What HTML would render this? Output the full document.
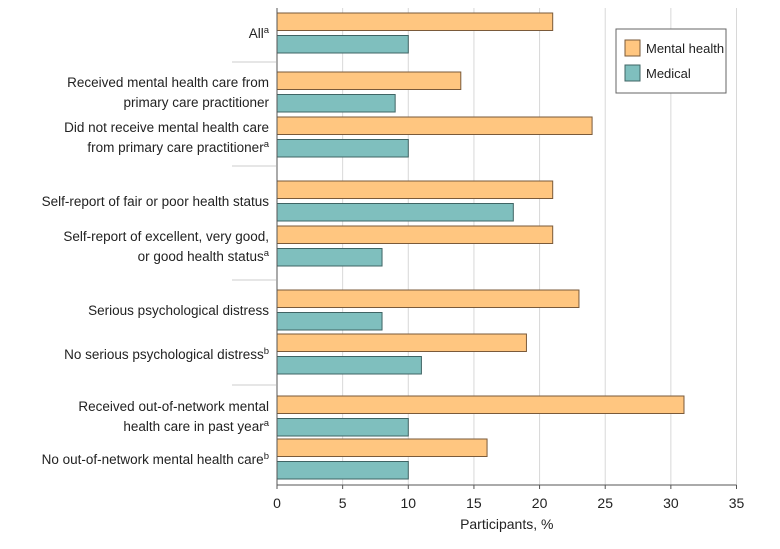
<!DOCTYPE html>
<html><head><meta charset="utf-8"><style>
body{margin:0;background:#fff;}
svg text{font-family:"Liberation Sans",sans-serif;fill:#222;}
</style></head><body>
<svg id="chart" width="780" height="544" viewBox="0 0 780 544" xmlns="http://www.w3.org/2000/svg"></svg>
<script>
const categories=[["All","a"],["Received mental health care from","primary care practitioner",""],["Did not receive mental health care","from primary care practitioner","a"],["Self-report of fair or poor health status",""],["Self-report of excellent, very good,","or good health status","a"],["Serious psychological distress",""],["No serious psychological distress","b"],["Received out-of-network mental","health care in past year","a"],["No out-of-network mental health care","b"]];
const mentalHealth=[21,14,24,21,21,23,19,31,16];
const medical=[10,9,10,18,8,8,11,10,10];
const ticks=[0,5,10,15,20,25,30,35];
const rowTops=[13,72,117,181,226,290,334,396,439];
const svg=document.getElementById('chart');
const NS='http://www.w3.org/2000/svg';
const x0=277,x1=736.5,axisY=485;
function xs(v){return x0+(x1-x0)*v/35;}
function mk(t,a,parent){const e=document.createElementNS(NS,t);for(const k in a)e.setAttribute(k,a[k]);(parent||svg).appendChild(e);return e;}
ticks.forEach(t=>{if(t>0){const g=mk('line',{x1:xs(t),x2:xs(t),y1:8,y2:axisY,stroke:'#d8d8d8','stroke-width':1});

}
const tl=mk('text',{x:xs(t),y:axisY+23,'text-anchor':'middle','font-size':14});tl.textContent=t;


mk('line',{x1:xs(t),x2:xs(t),y1:axisY,y2:axisY+4,stroke:'#555'});});
[62,166,280,385].forEach(y=>{const s=mk('line',{x1:232,x2:276,y1:y,y2:y,stroke:'#ddd','stroke-width':1.5});

});
const bh=17.5;
categories.forEach((c,i)=>{
 const top=rowTops[i];
 const b1=mk('rect',{x:x0,y:top,width:xs(mentalHealth[i])-x0,height:bh,fill:'#FFC680',stroke:'#7a5a3a','stroke-width':1});
 
 
 const b2=mk('rect',{x:x0,y:top+bh+5,width:xs(medical[i])-x0,height:bh,fill:'#7FBFBE',stroke:'#3f6464','stroke-width':1});
 
 
 const lines=c.slice(0,-1), sup=c[c.length-1];
 const cy=top+bh+2.5;
 const start=cy-(lines.length-1)*10+5;
 lines.forEach((ln,j)=>{
  const t=mk('text',{x:269,y:start+j*20,'text-anchor':'end','font-size':13.5});
  
  
  const m=mk('tspan',{},t);m.textContent=ln;
  if(j===lines.length-1&&sup){const s=mk('tspan',{dy:-5,'font-size':9.5},t);s.textContent=sup;}
 });
});
mk('line',{x1:x0,x2:x0,y1:8,y2:axisY,stroke:'#555'});
mk('line',{x1:x0,x2:x1,y1:axisY,y2:axisY,stroke:'#555'});
const xt=mk('text',{x:xs(17.5),y:axisY+44,'text-anchor':'middle','font-size':14});xt.textContent='Participants, %';


const lg=mk('g',{});


mk('rect',{x:616,y:29,width:110,height:64,fill:'#fff',stroke:'#666'},lg);
mk('rect',{x:625,y:40,width:15,height:16,fill:'#FFC680',stroke:'#7a5a3a'},lg);
mk('rect',{x:625,y:65,width:15,height:16,fill:'#7FBFBE',stroke:'#3f6464'},lg);
const l1=mk('text',{x:646,y:53,'font-size':13},lg);l1.textContent='Mental health';
const l2=mk('text',{x:646,y:78,'font-size':13},lg);l2.textContent='Medical';
</script>
</body></html>
